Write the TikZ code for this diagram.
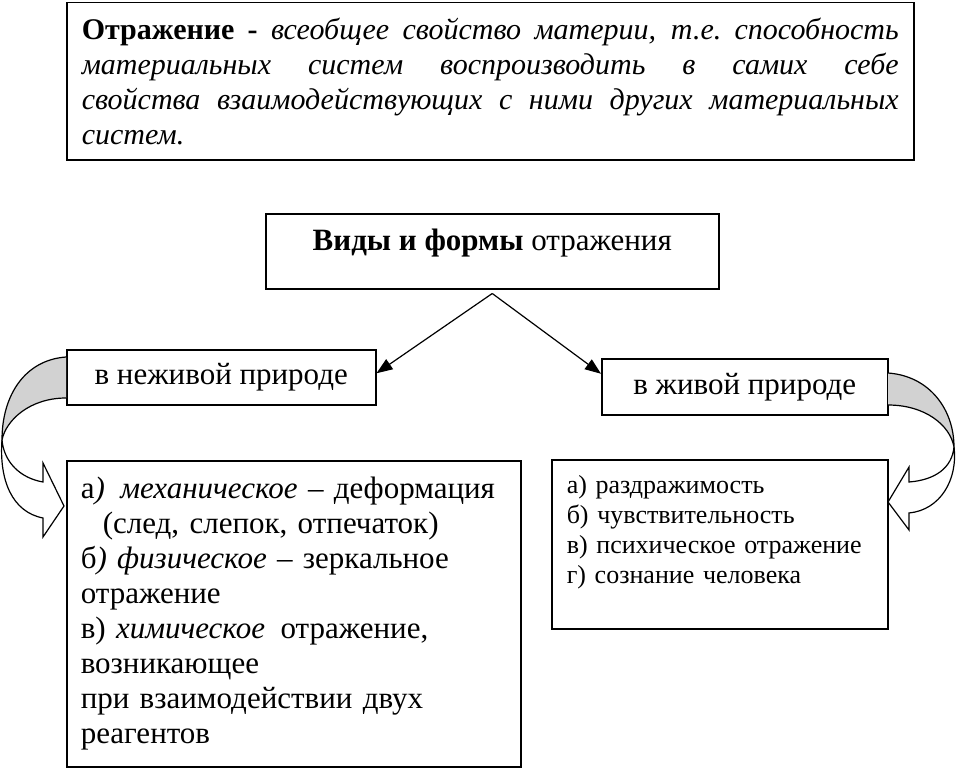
\documentclass[tikz,border=0pt]{standalone}
\usepackage{fontspec}
\setmainfont{Liberation Serif}
\usetikzlibrary{arrows.meta, positioning, calc}

\begin{document}
\begin{tikzpicture}[
        x=1pt, y=-1pt,
        box/.style={rectangle, draw=black, line width=1.5pt, inner sep=0pt, font=\fontsize{31}{35}\selectfont},
        listbox/.style={box, anchor=north west, align=left},
        arrow/.style={line width=1.2pt, -{Triangle[length=16pt, width=12pt]}},
        band/.style={fill=gray!35, draw=black, line width=1.2pt},
        curlarrow/.style={fill=white, draw=black, line width=1.2pt}
    ]
        \useasboundingbox[fill=white] (0,0) rectangle (956,768);

        % Nodes
        \node[box, anchor=north west, text width=817pt, inner xsep=15pt, minimum height=157pt, align=justify, font=\fontsize{30}{35}\selectfont] (def) at (66,2)
            {\textbf{Отражение -} \textit{всеобщее свойство материи, т.е.\ способность\linebreak
             материальных систем воспроизводить в самих себе\linebreak
             свойства взаимодействующих с ними других материальных\linebreak
             систем.}};
        \node[box, anchor=north west, minimum width=453pt, text height=37pt, text depth=38pt] (kinds) at (265,213)
            {\textbf{Виды и формы} отражения};
        \node[box, anchor=north west, minimum width=309pt, minimum height=55pt] (lifeless) at (66,349)
            {в неживой природе};
        \node[box, anchor=north west, minimum width=286pt, minimum height=56pt] (living) at (601,358)
            {в живой природе};
        \node[listbox, minimum width=454pt, minimum height=306pt, text width=426pt, inner xsep=14pt] (inanimate) at (66,460)
            {а\textit{)\, механическое} -- деформация\\
             \hspace*{22pt}(след, слепок, отпечаток)\\
             б\textit{) физическое} -- зеркальное\\
             отражение\\
             в) \textit{химическое}\, отражение,\\
             возникающее\\
             при взаимодействии двух\\
             реагентов};
        \node[listbox, minimum width=336pt, minimum height=169pt, text width=306pt, inner xsep=15pt, font=\fontsize{26}{30}\selectfont] (animate) at (551,459)
            {а) раздражимость\\
             б) чувствительность\\
             в) психическое отражение\\
             г) сознание человека\\
             \mbox{}};

        % Arrows
        \draw[arrow] ([yshift=-4pt]kinds.south) -- ([yshift=4pt]lifeless.east);
        \draw[arrow] ([yshift=-4pt]kinds.south) -- ([yshift=13pt]living.west);

        % Curved arrows
        \draw[band] (66,357) .. controls (25,360) and (2,395) .. (2,440) .. controls (6,420) and (30,398) .. (66,398);
        \draw[curlarrow] (2,440) .. controls (4,462) and (20,478) .. (43,482) -- (43,463) -- (64,506) -- (43,537) -- (43,518) .. controls (12,512) and (-1,480) .. (2,440);
        \draw[band] (888,373) .. controls (930,376) and (954,410) .. (954,447) .. controls (950,425) and (925,405) .. (888,405);
        \draw[curlarrow] (954,447) .. controls (952,468) and (935,480) .. (909,482) -- (909,467) -- (888,502) -- (909,530) -- (909,513) .. controls (940,510) and (958,480) .. (954,447);
    \end{tikzpicture}
\end{document}
